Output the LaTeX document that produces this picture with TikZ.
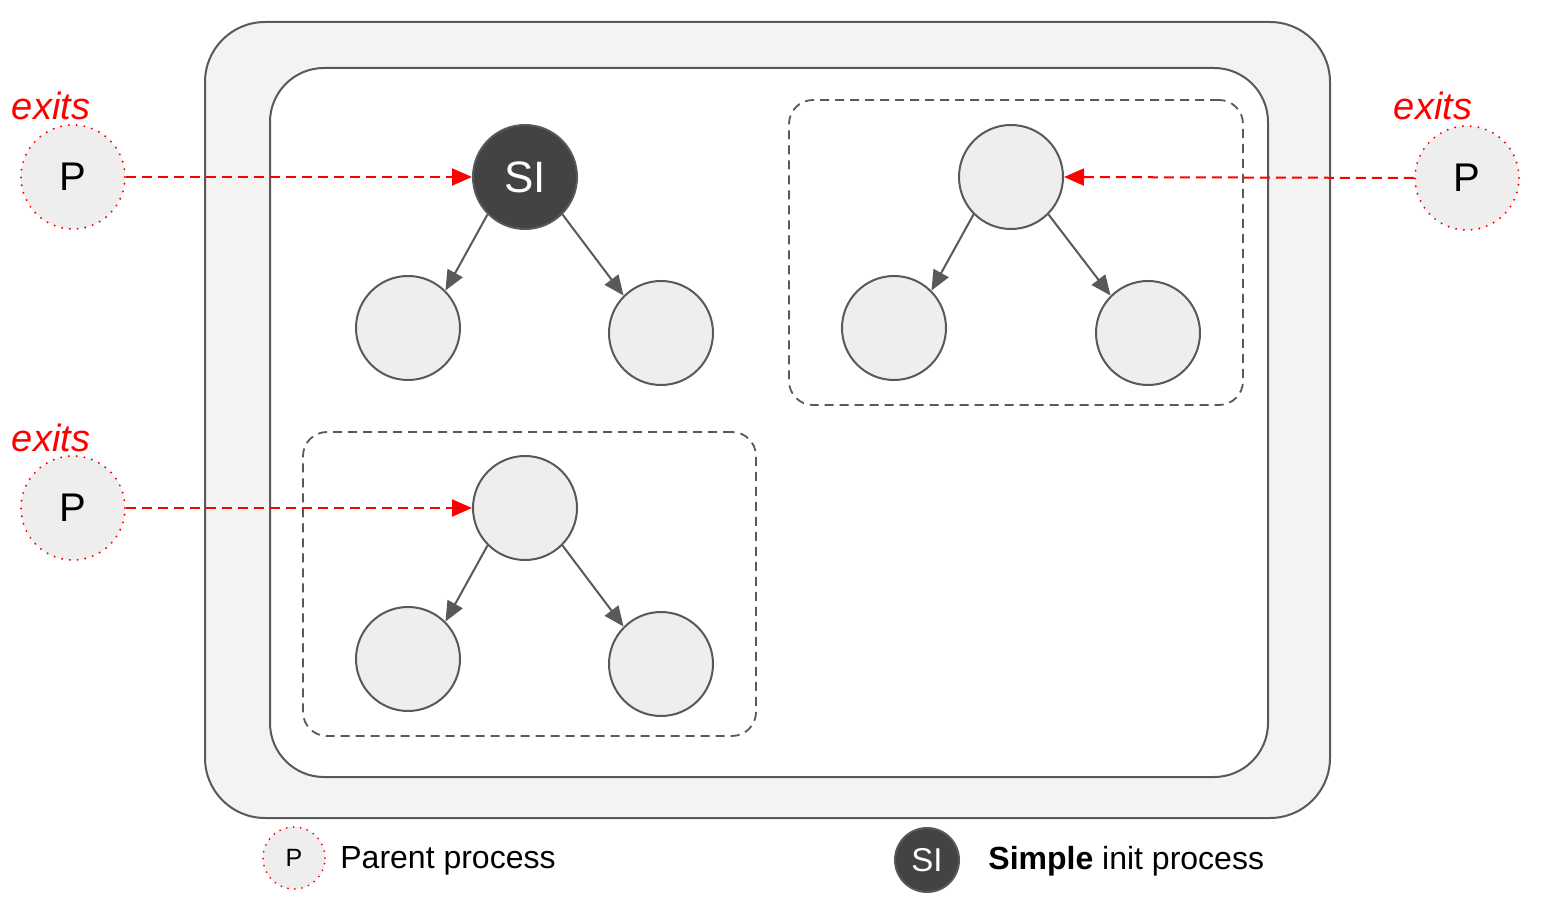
\documentclass[tikz,border=0pt]{standalone}
\usepackage{fontspec}
\setmainfont{Liberation Sans}
\usetikzlibrary{arrows.meta}
\definecolor{edge}{HTML}{595959}
\definecolor{cfill}{HTML}{EEEEEE}
\definecolor{sifill}{HTML}{434343}
\definecolor{boxfill}{HTML}{F3F3F3}
\definecolor{pred}{HTML}{FF0000}
\tikzset{
  proc/.style={circle, draw=edge, fill=cfill, line width=1pt, minimum size=52pt, inner sep=0pt},
  siproc/.style={circle, draw=edge, fill=sifill, line width=1pt, minimum size=52pt, inner sep=0pt, text=white, font=\fontsize{22pt}{24pt}\selectfont},
  parent/.style={circle, draw=pred, fill=cfill, line width=1.1pt, dash pattern=on 0pt off 3.9pt, line cap=round, minimum size=52pt, inner sep=0pt, font=\fontsize{20pt}{22pt}\selectfont},
  exitlbl/.style={text=pred, font=\fontsize{19pt}{21pt}\selectfont\itshape, inner sep=0pt},
  child/.style={draw=edge, line width=1pt, -{Triangle[length=10pt,width=8.5pt]}},
  kill/.style={draw=pred, line width=1pt, dash pattern=on 5pt off 3pt, -{Triangle[length=10pt,width=8.5pt]}},
  group/.style={draw=edge, line width=0.9pt, dash pattern=on 4.5pt off 3pt, rounded corners=12pt, inner sep=0pt},
  legtext/.style={anchor=west, inner sep=0pt, font=\fontsize{16pt}{18pt}\selectfont},
}
\begin{document}
\begin{tikzpicture}[x=0.5pt, y=-0.5pt]
\useasboundingbox (0,0) rectangle (1542,914);
% containers
\node[draw=edge, fill=boxfill, line width=1pt, rounded corners=30pt, minimum width=562.5pt, minimum height=398pt, inner sep=0pt] (outer) at (767.5,420) {};
\node[draw=edge, fill=white, line width=1pt, rounded corners=27pt, minimum width=499pt, minimum height=354.5pt, inner sep=0pt] (inner) at (769,422.5) {};
\node[group, minimum width=227pt, minimum height=152.5pt] (g1) at (1016,252.5) {};
\node[group, minimum width=226.5pt, minimum height=152pt] (g2) at (529.5,584) {};
% tree 1 (SI)
\node[siproc] (si) at (525,177) {SI};
\node[proc] (a1) at (408,328) {};
\node[proc] (a2) at (661,333) {};
\draw[child] (si.225) -- (a1.45);
\draw[child] (si.315) -- (a2.135);
% tree 2
\node[proc] (b0) at (1011,177) {};
\node[proc] (b1) at (894,328) {};
\node[proc] (b2) at (1148,333) {};
\draw[child] (b0.225) -- (b1.45);
\draw[child] (b0.315) -- (b2.135);
% tree 3
\node[proc] (c0) at (525,508) {};
\node[proc] (c1) at (408,659) {};
\node[proc] (c2) at (661,664) {};
\draw[child] (c0.225) -- (c1.45);
\draw[child] (c0.315) -- (c2.135);
% parents
\node[parent] (p1) at (73,177) {P};
\node[parent] (p2) at (73,508) {P};
\node[parent] (p3) at (1467,178) {P};
\node[exitlbl] (e1) at (51,106) {exits};
\node[exitlbl] (e2) at (51,438) {exits};
\node[exitlbl] (e3) at (1433,106) {exits};
\draw[kill] (p1.east) -- (si.west);
\draw[kill] (p2.east) -- (c0.west);
\draw[kill] (p3.west) -- (b0.east);
% legend
\node[parent, minimum size=31pt, font=\fontsize{12.5pt}{14pt}\selectfont, line width=1pt, dash pattern=on 0pt off 3.5pt] (lp) at (294,858) {P};
\node[legtext] (lpt) at (340,861) {Parent process};
\node[siproc, minimum size=32pt, font=\fontsize{16.5pt}{18pt}\selectfont] (lsi) at (927,860) {SI};
\node[legtext] (lsit) at (988,861) {\textbf{Simple} init process};
\end{tikzpicture}
\end{document}
